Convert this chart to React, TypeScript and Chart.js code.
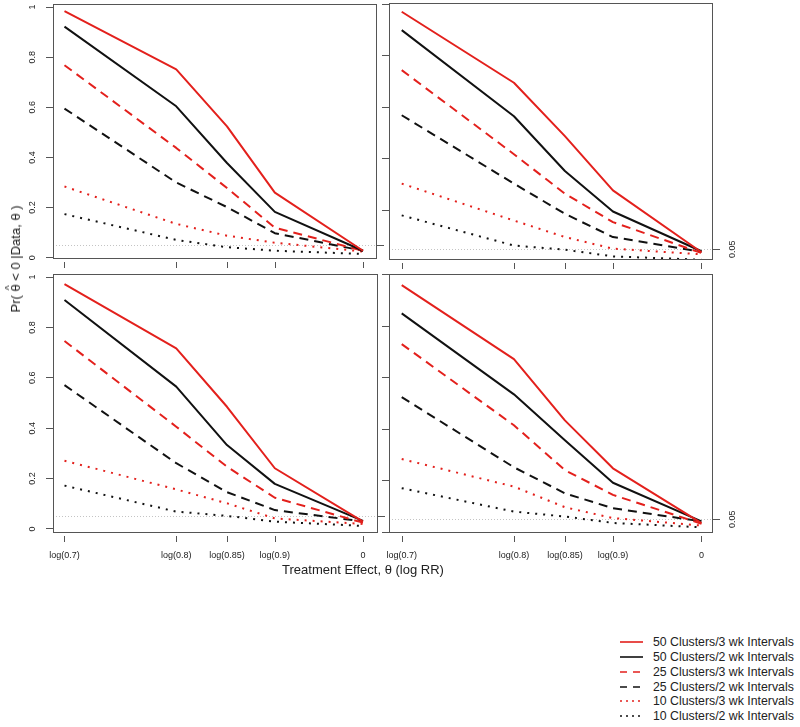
import React, { useEffect, useRef } from 'react';
import { Chart, registerables } from 'chart.js';

Chart.register(...registerables);

// ---------- data ----------
const X_VALUES = [Math.log(0.7), Math.log(0.8), Math.log(0.85), Math.log(0.9), 0];
const X_TICK_LABELS = ['log(0.7)', 'log(0.8)', 'log(0.85)', 'log(0.9)', '0'];
const Y_TICKS = [0, 0.2, 0.4, 0.6, 0.8, 1];
const Y_TICK_LABELS = ['0', '0.2', '0.4', '0.6', '0.8', '1'];
const REF_TICKS = [0.05];
const REF_TICK_LABELS = ['0.05'];
const REF_LEVEL = 0.05;

const SERIES_LABELS = [
  '50 Clusters/3 wk Intervals',
  '50 Clusters/2 wk Intervals',
  '25 Clusters/3 wk Intervals',
  '25 Clusters/2 wk Intervals',
  '10 Clusters/3 wk Intervals',
  '10 Clusters/2 wk Intervals',
];

// each panel: one array per series, in SERIES_LABELS order
const TOP_LEFT = [
  [0.984, 0.751, 0.524, 0.26, 0.028],
  [0.922, 0.604, 0.378, 0.183, 0.028],
  [0.768, 0.438, 0.278, 0.12, 0.028],
  [0.595, 0.3, 0.202, 0.098, 0.028],
  [0.284, 0.135, 0.088, 0.06, 0.025],
  [0.174, 0.071, 0.042, 0.028, 0.015],
];
const TOP_RIGHT = [
  [0.97, 0.695, 0.488, 0.278, 0.038],
  [0.899, 0.565, 0.353, 0.196, 0.042],
  [0.744, 0.418, 0.265, 0.155, 0.035],
  [0.569, 0.304, 0.187, 0.097, 0.04],
  [0.304, 0.161, 0.097, 0.052, 0.03],
  [0.181, 0.064, 0.048, 0.022, 0.009],
];
const BOTTOM_LEFT = [
  [0.972, 0.717, 0.485, 0.241, 0.029],
  [0.909, 0.565, 0.333, 0.179, 0.032],
  [0.746, 0.406, 0.247, 0.124, 0.025],
  [0.571, 0.261, 0.146, 0.075, 0.03],
  [0.271, 0.157, 0.102, 0.042, 0.02],
  [0.172, 0.069, 0.052, 0.029, 0.012],
];
const BOTTOM_RIGHT = [
  [0.959, 0.672, 0.434, 0.248, 0.035],
  [0.849, 0.535, 0.357, 0.192, 0.042],
  [0.73, 0.415, 0.241, 0.145, 0.033],
  [0.524, 0.252, 0.151, 0.093, 0.042],
  [0.284, 0.177, 0.097, 0.055, 0.026],
  [0.171, 0.08, 0.061, 0.036, 0.019],
];

// ---------- styles / layout ----------
const RED = '#e3201c';
const BLACK = '#111111';
const SERIES_STYLE = [
  { color: RED, dash: [] as number[], legendDash: '' },
  { color: BLACK, dash: [] as number[], legendDash: '' },
  { color: RED, dash: [9, 6], legendDash: '7 6' },
  { color: BLACK, dash: [9, 6], legendDash: '7 6' },
  { color: RED, dash: [2, 6], legendDash: '2 4' },
  { color: BLACK, dash: [2, 6], legendDash: '2 4' },
];
const FONT = "'Liberation Sans', Arial, Helvetica, sans-serif";
const LEFT_SPACE = 53;
const RIGHT_SPACE = 45;
const TOP_SPACE = 4;
const BOTTOM_SPACE = 50;
const AXIS_COLOR = '#555';

type PanelCfg = {
  box: [number, number, number, number];
  y: [number, number];
  x: [number, number];
  left: boolean;
  right: boolean;
  bottom: boolean;
  data: number[][];
};

const PANELS: PanelCfg[] = [
  { box: [53, 4, 377, 259], y: [-0.005, 1.012], x: [-0.3704, 0.0167], left: true, right: false, bottom: false, data: TOP_LEFT },
  { box: [389, 3, 713, 260], y: [0.008, 1.004], x: [-0.3718, 0.0137], left: false, right: true, bottom: false, data: TOP_RIGHT },
  { box: [53, 274, 378, 533], y: [-0.016, 1.012], x: [-0.3704, 0.0179], left: true, right: false, bottom: true, data: BOTTOM_LEFT },
  { box: [389, 274, 713, 533], y: [-0.003, 1.002], x: [-0.3718, 0.0137], left: false, right: true, bottom: true, data: BOTTOM_RIGHT },
];

const zeroPad = (s: any) => {
  s.paddingTop = 0;
  s.paddingBottom = 0;
  s.paddingLeft = 0;
  s.paddingRight = 0;
};

const decorPlugin = {
  id: 'panelDecor',
  beforeDatasetsDraw(chart: any) {
    const { ctx, chartArea: a, scales } = chart;
    const y = Math.round(scales.y.getPixelForValue(REF_LEVEL)) + 0.5;
    ctx.save();
    ctx.strokeStyle = '#c4c4c4';
    ctx.lineWidth = 1;
    ctx.setLineDash([1, 2]);
    ctx.beginPath();
    ctx.moveTo(a.left, y);
    ctx.lineTo(a.right, y);
    ctx.stroke();
    ctx.restore();
  },
  afterDraw(chart: any) {
    const { ctx, chartArea: a, scales } = chart;
    ctx.save();
    ctx.strokeStyle = AXIS_COLOR;
    ctx.lineWidth = 1;
    ctx.setLineDash([]);
    ctx.strokeRect(a.left + 0.5, a.top + 0.5, a.right - a.left - 1, a.bottom - a.top - 1);
    ctx.beginPath();
    for (const v of X_VALUES) {
      const x = Math.round(scales.x.getPixelForValue(v)) + 0.5;
      ctx.moveTo(x, a.bottom + 3);
      ctx.lineTo(x, a.bottom + 9);
    }
    ctx.stroke();
    ctx.restore();
  },
};

function Panel({ cfg }: { cfg: PanelCfg }) {
  const ref = useRef<HTMLCanvasElement>(null);
  const [l, t, r, b] = cfg.box;
  const width = r - l + LEFT_SPACE + RIGHT_SPACE;
  const height = b - t + TOP_SPACE + BOTTOM_SPACE;

  useEffect(() => {
    if (!ref.current) return;
    const tickFont = { family: FONT, size: 9 };
    const chart = new Chart(ref.current, {
      type: 'line',
      data: {
        datasets: cfg.data.map((vals, i) => ({
          label: SERIES_LABELS[i],
          data: X_VALUES.map((x, j) => ({ x, y: vals[j] })),
          borderColor: SERIES_STYLE[i].color,
          borderWidth: 2,
          borderDash: SERIES_STYLE[i].dash,
          borderCapStyle: 'butt',
          borderJoinStyle: 'round',
          pointRadius: 0,
          tension: 0,
          fill: false,
        })),
      },
      options: {
        animation: false,
        responsive: false,
        devicePixelRatio: 1,
        events: [],
        layout: { autoPadding: false, padding: { top: TOP_SPACE, left: 0, right: 0, bottom: 0 } },
        plugins: { legend: { display: false }, tooltip: { enabled: false }, title: { display: false } },
        scales: {
          x: {
            type: 'linear',
            position: 'bottom',
            min: cfg.x[0],
            max: cfg.x[1],
            grid: { display: false, drawTicks: false },
            border: { display: false },
            afterBuildTicks: (s: any) => {
              s.ticks = X_VALUES.map((v) => ({ value: v }));
            },
            afterFit: (s: any) => {
              s.height = BOTTOM_SPACE;
              zeroPad(s);
            },
            ticks: {
              display: cfg.bottom,
              autoSkip: false,
              maxRotation: 0,
              minRotation: 0,
              padding: 17,
              font: tickFont,
              color: '#222',
              callback: (_v: any, i: number) => X_TICK_LABELS[i],
            },
          },
          y: {
            type: 'linear',
            position: 'left',
            min: cfg.y[0],
            max: cfg.y[1],
            grid: { display: true, drawOnChartArea: false, drawTicks: true, tickLength: 7, color: AXIS_COLOR, lineWidth: 1 },
            border: { display: false },
            afterBuildTicks: (s: any) => {
              s.ticks = Y_TICKS.filter((v) => v >= s.min && v <= s.max).map((v) => ({ value: v }));
            },
            afterFit: (s: any) => {
              s.width = LEFT_SPACE;
              zeroPad(s);
            },
            ticks: {
              display: cfg.left,
              autoSkip: false,
              minRotation: 90,
              maxRotation: 90,
              crossAlign: 'center',
              padding: 7,
              font: tickFont,
              color: '#222',
              callback: (v: any) => Y_TICK_LABELS[Y_TICKS.indexOf(v)],
            },
          },
          y2: {
            type: 'linear',
            axis: 'y',
            position: 'right',
            min: cfg.y[0],
            max: cfg.y[1],
            grid: { display: true, drawOnChartArea: false, drawTicks: true, tickLength: 7, color: AXIS_COLOR, lineWidth: 1 },
            border: { display: false },
            afterBuildTicks: (s: any) => {
              s.ticks = REF_TICKS.map((v) => ({ value: v }));
            },
            afterFit: (s: any) => {
              s.width = RIGHT_SPACE;
              zeroPad(s);
            },
            ticks: {
              display: cfg.right,
              autoSkip: false,
              minRotation: 90,
              maxRotation: 90,
              crossAlign: 'center',
              padding: 4,
              font: tickFont,
              color: '#222',
              callback: (_v: any, i: number) => REF_TICK_LABELS[i],
            },
          },
        },
      } as any,
      plugins: [decorPlugin],
    });
    return () => chart.destroy();
  }, []);

  return (
    <canvas
      ref={ref}
      width={width}
      height={height}
      style={{
        position: 'absolute',
        left: l - LEFT_SPACE,
        top: t - TOP_SPACE,
        width,
        height,
        display: 'block',
      }}
    />
  );
}

function Legend() {
  return (
    <>
      {SERIES_LABELS.map((label, i) => {
        const cy = 642.3 + i * 14.75;
        return (
          <React.Fragment key={label}>
            <svg
              width={26}
              height={6}
              style={{ position: 'absolute', left: 619, top: cy - 3 }}
            >
              <line
                x1={1}
                y1={3}
                x2={24}
                y2={3}
                stroke={SERIES_STYLE[i].color}
                strokeWidth={1.6}
                strokeDasharray={SERIES_STYLE[i].legendDash || undefined}
              />
            </svg>
            <div
              style={{
                position: 'absolute',
                left: 653,
                top: cy - 7,
                height: 14,
                lineHeight: '14px',
                fontSize: 12.3,
                fontFamily: FONT,
                color: '#222',
                whiteSpace: 'nowrap',
              }}
            >
              {label}
            </div>
          </React.Fragment>
        );
      })}
    </>
  );
}

export default function App() {
  return (
    <div
      style={{
        position: 'absolute',
        left: 0,
        top: 0,
        width: 800,
        height: 727,
        background: '#fff',
        overflow: 'hidden',
        fontFamily: FONT,
      }}
    >
      {PANELS.map((p, i) => (
        <Panel key={i} cfg={p} />
      ))}
      <div
        style={{
          position: 'absolute',
          left: 16,
          top: 259,
          transform: 'translate(-50%, -50%) rotate(-90deg)',
          whiteSpace: 'nowrap',
          fontSize: 13,
          lineHeight: '16px',
          color: '#222',
        }}
      >
        {'Pr( '}
        <span style={{ position: 'relative', display: 'inline-block' }}>
          θ
          <span
            style={{
              position: 'absolute',
              left: 0,
              right: 0,
              top: '-0.62em',
              textAlign: 'center',
              fontSize: '0.8em',
            }}
          >
            ^
          </span>
        </span>
        {' < 0 |Data, θ )'}
      </div>
      <div
        style={{
          position: 'absolute',
          left: 363,
          top: 570,
          transform: 'translate(-50%, -50%)',
          whiteSpace: 'nowrap',
          fontSize: 13,
          lineHeight: '16px',
          color: '#222',
        }}
      >
        Treatment Effect, θ (log RR)
      </div>
      <Legend />
    </div>
  );
}
